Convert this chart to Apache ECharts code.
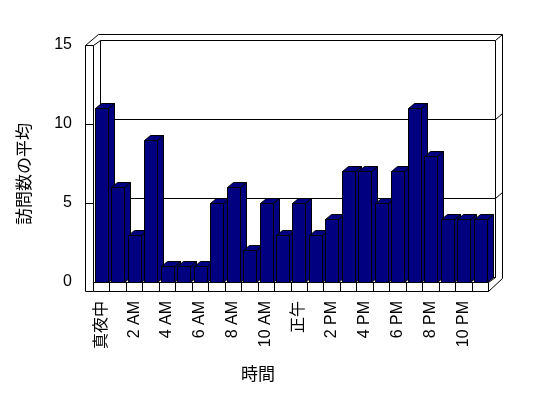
<!DOCTYPE html>
<html>
<head>
<meta charset="utf-8">
<script src="https://cdn.jsdelivr.net/npm/echarts@6/dist/echarts.min.js"></script>
<style>html,body{margin:0;padding:0;background:#fff;}#c{width:548px;height:398px;}</style>
</head>
<body>
<div id="c"></div>
<script>
const hours = ['真夜中','1 AM','2 AM','3 AM','4 AM','5 AM','6 AM','7 AM','8 AM','9 AM','10 AM','11 AM',
               '正午','1 PM','2 PM','3 PM','4 PM','5 PM','6 PM','7 PM','8 PM','9 PM','10 PM','11 PM'];
const visits = [11, 6, 3, 9, 1, 1, 1, 5, 6, 2, 5, 3, 5, 3, 4, 7, 7, 5, 7, 11, 8, 4, 4, 4];
const yTicks = [0, 5, 10, 15];
const xTitle = '時間';
const yTitle = '訪問数の平均';

const yMax = yTicks[yTicks.length - 1];
const FONT = '"Liberation Sans", "Noto Sans CJK JP", sans-serif';
const NAVY = '#000080';
const px = v => Math.round(v) + 0.5;

function frameItem(params, api) {
  const bw = api.size([1, 0])[0];
  const c0 = api.coord([0, 0]);
  const L = px(c0[0] - bw / 2);
  const R = px(c0[0] - bw / 2 + hours.length * bw);
  const Y0 = px(c0[1]);
  const YT = px(api.coord([0, yMax])[1]);
  const W = 8, T = 9;
  const d1 = [7, -5], d2 = [14, -11];
  const kids = [];
  const st = {stroke: '#000', lineWidth: 1, fill: null};
  const ln = (x1, y1, x2, y2) => kids.push({type: 'line', shape: {x1, y1, x2, y2}, style: st});
  // back wall inner face
  kids.push({type: 'rect', shape: {x: L + d1[0], y: YT + d1[1], width: R - L, height: Y0 - YT},
    style: {fill: '#fff', stroke: '#000', lineWidth: 1}});
  // back wall outer edges
  ln(L - W + 13, YT + d2[1], R + d2[0], YT + d2[1]);
  ln(R + d2[0], YT + d2[1], R + d2[0], Y0 + T - 13);
  ln(R + d1[0], YT + d1[1], R + d2[0], YT + d2[1]);
  // gridlines on back wall
  yTicks.forEach(v => {
    if (v === 0 || v === yMax) return;
    const y = px(api.coord([0, v])[1]);
    ln(L + d1[0], y + d1[1], R + d1[0], y + d1[1]);
    ln(R + d1[0], y + d1[1], R + d2[0], y + d2[1]);
    ln(L - W, y, L, y);
  });
  // left wall
  kids.push({type: 'rect', shape: {x: L - W, y: YT, width: W, height: Y0 + T - YT},
    style: {fill: '#fff', stroke: '#000', lineWidth: 1}});
  ln(L - W, YT, L - W + 13, YT + d2[1]);
  ln(L, YT, L + d1[0], YT + d1[1]);
  yTicks.forEach(v => {
    if (v === 0 || v === yMax) return;
    const y = px(api.coord([0, v])[1]);
    ln(L - W, y, L, y);
  });
  // floor front face
  kids.push({type: 'rect', shape: {x: L, y: Y0, width: R - L, height: T},
    style: {fill: '#fff', stroke: '#000', lineWidth: 1}});
  for (let i = 1; i < hours.length; i++) {
    const x = px(c0[0] - bw / 2 + i * bw);
    ln(x, Y0, x, Y0 + T);
  }
  ln(R, Y0 + T, R + d2[0], Y0 + T - 13);
  ln(R, Y0, R + d1[0], Y0 + d1[1]);
  return {type: 'group', children: kids};
}

function barItem(params, api) {
  const i = api.value(0);
  const v = api.value(1);
  const bw = api.size([1, 0])[0];
  const c = api.coord([i, v]);
  const base = api.coord([i, 0]);
  const x0 = Math.round(c[0] - bw / 2 + bw * 0.12) + 0.5;
  const w = Math.round(bw * 0.8);
  const yv = Math.round(c[1]) + 0.5;
  const y0 = Math.round(base[1]) + 0.5;
  const dx = 6, dy = -5;
  const st = {fill: NAVY, stroke: '#000', lineWidth: 1};
  return {type: 'group', children: [
    {type: 'polygon', shape: {points: [[x0 + w, yv], [x0 + w + dx, yv + dy], [x0 + w + dx, y0 + dy], [x0 + w, y0]]}, style: st},
    {type: 'polygon', shape: {points: [[x0, yv], [x0 + w, yv], [x0 + w + dx, yv + dy], [x0 + dx, yv + dy]]}, style: st},
    {type: 'rect', shape: {x: x0, y: yv, width: w, height: y0 - yv}, style: st}
  ]};
}

const chart = echarts.init(document.getElementById('c'), null, {renderer: 'canvas'});
chart.setOption({
  animation: false,
  backgroundColor: '#fff',
  grid: {left: 93, right: 60, top: 45, bottom: 116, containLabel: false},
  xAxis: {
    type: 'category', data: hours, boundaryGap: true,
    axisLine: {show: false}, axisTick: {show: false}, splitLine: {show: false},
    axisLabel: {interval: 1, rotate: 90, margin: 19, color: '#000', fontSize: 16, fontFamily: FONT}
  },
  yAxis: {
    type: 'value', min: 0, max: yMax, interval: 5,
    axisLine: {show: false}, axisTick: {show: false}, splitLine: {show: false},
    axisLabel: {margin: 21, color: '#000', fontSize: 16, fontFamily: FONT}
  },
  graphic: [
    {type: 'text', x: 258, y: 375, style: {text: xTitle, align: 'center', verticalAlign: 'middle', fontSize: 17, fontFamily: FONT, fill: '#000'}},
    {type: 'text', x: 25, y: 174, rotation: Math.PI / 2, style: {text: yTitle, align: 'center', verticalAlign: 'middle', fontSize: 17, fontFamily: FONT, fill: '#000'}}
  ],
  series: [
    {type: 'custom', data: [[0, 0]], renderItem: frameItem, z: 1, silent: true},
    {type: 'custom', data: visits.map((v, i) => [i, v]), encode: {x: 0, y: 1}, renderItem: barItem, z: 2}
  ]
});
</script>
</body>
</html>
